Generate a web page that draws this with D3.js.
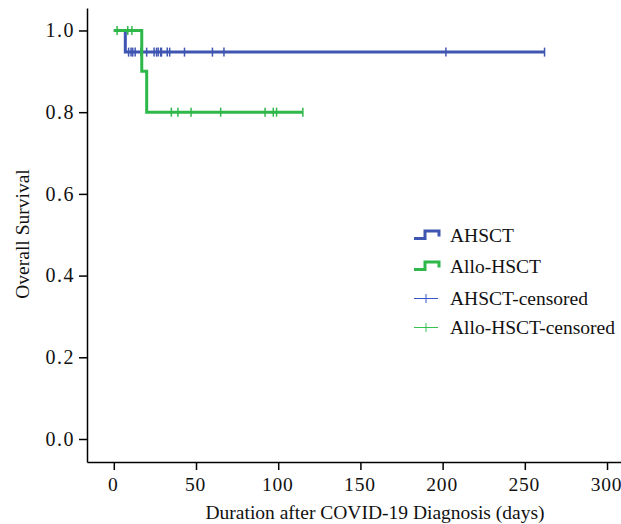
<!DOCTYPE html>
<html lang="en">
<head>
  <meta charset="UTF-8">
  <title>Overall Survival</title>
  <style>
    * { box-sizing: border-box; margin: 0; }
    body { background: #fff; }
    svg { display: block; }
    text { font-family: "Liberation Serif", "DejaVu Serif", serif; fill: #111; }
    .axis path, .axis line { stroke: #000; stroke-width: 1.5; }
    .axis text { fill: #111; font-family: "Liberation Serif", serif; }
    .x-axis text { font-size: 19.5px; letter-spacing: 0.8px; }
    .y-axis text { font-size: 20px; letter-spacing: 1.5px; }
  </style>
</head>
<body>
  <svg></svg>
  <script src="https://d3js.org/d3.v7.min.js"></script>
  <script>
    // Kaplan-Meier steps
    const ahsctEventDays = [7];
    const ahsctSurvival = [0.947];
    const ahsctLastDay = 262;
    const ahsctCensored = [9, 10.5, 11.5, 13, 16.5, 20, 24.5, 26, 27, 28.5, 29, 32.5, 34, 43, 60, 67, 202, 262];
    const alloEventDays = [17, 20];
    const alloSurvival = [0.9, 0.8];
    const alloLastDay = 115;
    const alloCensored = [2, 8.5, 11, 35, 39, 47, 65, 92, 97, 99, 115];
    const xTicks = [0, 50, 100, 150, 200, 250, 300];
    const yTicks = [0, 0.2, 0.4, 0.6, 0.8, 1.0];
    const legendLabels = ['AHSCT', 'Allo-HSCT', 'AHSCT-censored', 'Allo-HSCT-censored'];

    const width = 621;
    const height = 524;
    const blue = '#3f55b2';
    const green = '#2fb84a';

    const svg = d3.select('svg')
      .attr('width', width)
      .attr('height', height);

    const x = d3.scaleLinear().domain([-16.3, 308.5]).range([87, 621]);
    const y = d3.scaleLinear().domain([-0.0563, 1.055]).range([462, 8]);

    // axes
    const xAxis = svg.append('g')
      .attr('class', 'axis x-axis')
      .attr('transform', 'translate(0,' + y.range()[0] + ')')
      .call(d3.axisBottom(x).tickValues(xTicks).tickSize(8).tickSizeOuter(0).tickPadding(5));
    xAxis.attr('font-family', null).attr('font-size', null);
    xAxis.selectAll('text').attr('dy', '0.8em').attr('dx', -1);

    const yAxis = svg.append('g')
      .attr('class', 'axis y-axis')
      .attr('transform', 'translate(' + x.range()[0] + ',0)')
      .call(d3.axisLeft(y).tickValues(yTicks).tickFormat(d3.format('.1f')).tickSize(8).tickSizeOuter(0).tickPadding(4));
    yAxis.attr('font-family', null).attr('font-size', null);

    svg.append('text')
      .attr('x', 375)
      .attr('y', 519)
      .attr('text-anchor', 'middle')
      .attr('font-size', 19.5)
      .text('Duration after COVID-19 Diagnosis (days)');

    svg.append('text')
      .attr('transform', 'translate(29,234) rotate(-90)')
      .attr('text-anchor', 'middle')
      .attr('font-size', 19.5)
      .text('Overall Survival');

    function stepPoints(days, surv, last) {
      const pts = [[0, 1]];
      let s = 1;
      days.forEach((d, i) => {
        pts.push([d, s]);
        s = surv[i];
        pts.push([d, s]);
      });
      pts.push([last, s]);
      return pts;
    }

    function survAt(days, surv, t) {
      let s = 1;
      days.forEach((d, i) => { if (t >= d) s = surv[i]; });
      return s;
    }

    const line = d3.line().x(d => x(d[0])).y(d => y(d[1]));

    function drawCurve(days, surv, last, censored, color) {
      svg.append('path')
        .attr('d', line(stepPoints(days, surv, last)))
        .attr('fill', 'none')
        .attr('stroke', color)
        .attr('stroke-width', 3);

      svg.append('g')
        .selectAll('line')
        .data(censored)
        .join('line')
        .attr('x1', d => x(d))
        .attr('x2', d => x(d))
        .attr('y1', d => y(survAt(days, surv, d)) - 4.5)
        .attr('y2', d => y(survAt(days, surv, d)) + 4.5)
        .attr('stroke', color)
        .attr('stroke-width', 1.5);
    }

    drawCurve(ahsctEventDays, ahsctSurvival, ahsctLastDay, ahsctCensored, blue);
    drawCurve(alloEventDays, alloSurvival, alloLastDay, alloCensored, green);

    // legend
    const legendColors = [blue, green, '#3a56c8', '#33c24d'];
    const legend = svg.append('g').attr('transform', 'translate(414,0)');
    const rowY = [235, 266, 298.5, 327.5];

    legendLabels.forEach((label, i) => {
      const g = legend.append('g').attr('transform', 'translate(0,' + rowY[i] + ')');
      if (i < 2) {
        g.append('path')
          .attr('d', 'M0,3.5H11V-4H25V1.5')
          .attr('fill', 'none')
          .attr('stroke', legendColors[i])
          .attr('stroke-width', 3);
      } else {
        g.append('path')
          .attr('d', 'M0,0H24M12,-4.5V4.5')
          .attr('fill', 'none')
          .attr('stroke', legendColors[i])
          .attr('stroke-width', 1);
      }
      g.append('text')
        .attr('x', 36)
        .attr('y', 6.5)
        .attr('font-size', 19.5)
        .text(label);
    });
  </script>
</body>
</html>
